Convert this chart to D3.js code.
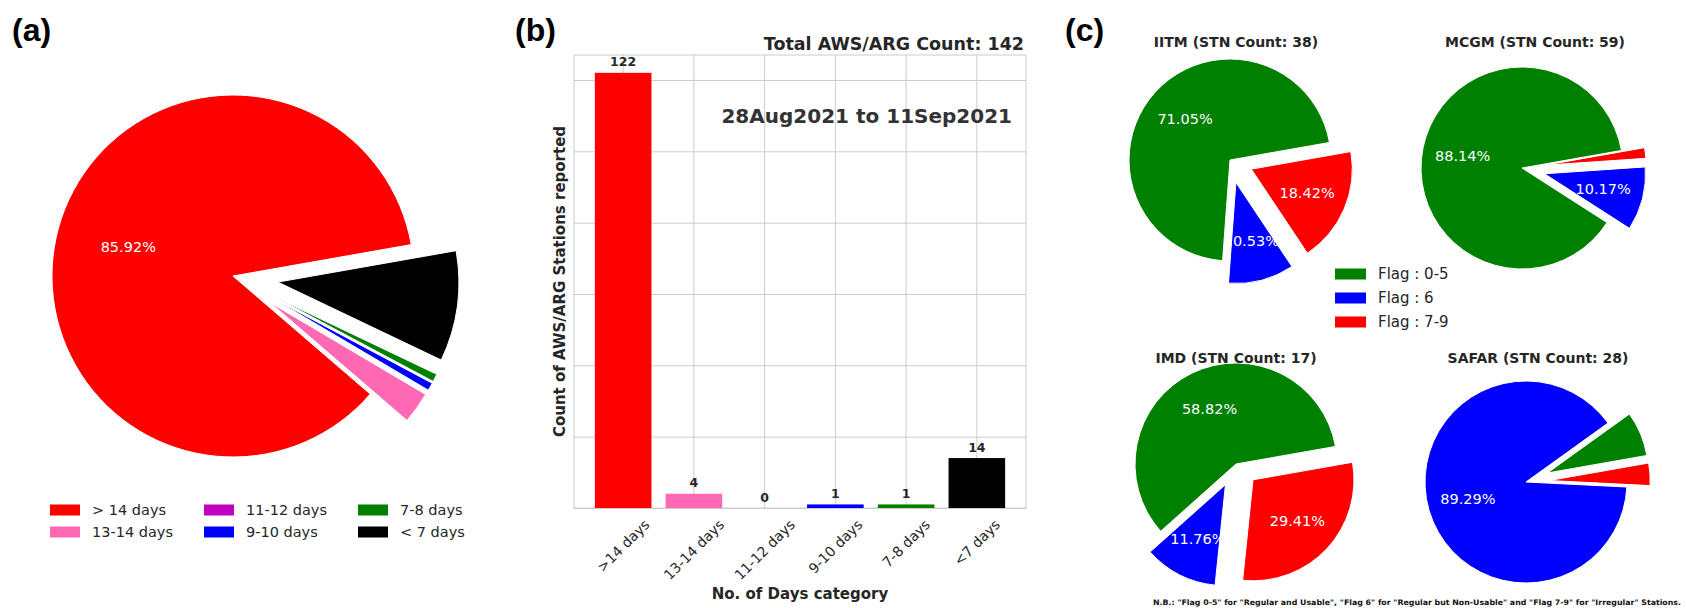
<!DOCTYPE html>
<html><head><meta charset="utf-8">
<script src="https://cdn.jsdelivr.net/npm/d3@7"></script>
<style>body{margin:0;background:#fff}svg{display:block}</style>
</head><body>
<svg id="chart" width="1686" height="608"></svg>
<script>
// ---------- data ----------
const legendCategories = ["> 14 days", "13-14 days", "11-12 days", "9-10 days", "7-8 days", "< 7 days"];
const barCategories = [">14 days", "13-14 days", "11-12 days", "9-10 days", "7-8 days", "<7 days"];
const stationCounts = [122, 4, 0, 1, 1, 14];
const dayColors = ["#ff0000", "#ff69b4", "#bf00bf", "#0000ff", "#008000", "#000000"];

const flagLabels = ["Flag : 0-5", "Flag : 6", "Flag : 7-9"];
const flagColors = ["#008000", "#0000ff", "#ff0000"];
const networkNames = ["IITM", "MCGM", "IMD", "SAFAR"];
const iitmFlags = [27, 4, 7];
const mcgmFlags = [52, 6, 1];
const imdFlags = [10, 2, 5];
const safarFlags = [2, 25, 1];

const totalTitle = "Total AWS/ARG Count: 142";
const periodText = "28Aug2021 to 11Sep2021";
const footnote = 'N.B.: "Flag 0-5" for "Regular and Usable", "Flag 6" for "Regular but Non-Usable" and "Flag 7-9" for "Irregular" Stations.';

// ---------- setup ----------
const svg = d3.select("#chart");
const FONT = "'DejaVu Sans', sans-serif";
const TXT = "#262626";
const deg = Math.PI / 180;

function drawPie(values, colors, cx, cy, r, explode, fontSize) {
  const g = svg.append("g");
  const total = d3.sum(values);
  const maxV = d3.max(values);
  const a0 = Math.PI / 2 - 10 * deg;            // startangle=10, counter-clockwise
  const pie = d3.pie().sort(null).value(d => d).startAngle(a0).endAngle(a0 - 2 * Math.PI);
  const arc = d3.arc().innerRadius(0).outerRadius(r);
  const arcs = pie(values);
  arcs.forEach((a, i) => {
    if (a.value === 0) return;
    const m = (a.startAngle + a.endAngle) / 2;
    const e = a.value === maxV ? 0 : explode;
    const dx = Math.sin(m) * e * r, dy = -Math.cos(m) * e * r;
    g.append("path")
      .attr("d", arc(a))
      .attr("transform", `translate(${cx + dx},${cy + dy})`)
      .attr("fill", colors[i])
      .attr("stroke", "#fff").attr("stroke-width", 1);
  });
  arcs.forEach((a, i) => {
    const pct = a.value / total * 100;
    if (pct <= 10) return;
    const m = (a.startAngle + a.endAngle) / 2;
    const e = a.value === maxV ? 0 : explode;
    const rr = (0.6 + e) * r;
    g.append("text")
      .attr("x", cx + Math.sin(m) * rr)
      .attr("y", cy - Math.cos(m) * rr)
      .attr("text-anchor", "middle").attr("dominant-baseline", "central")
      .attr("font-family", FONT).attr("font-size", fontSize)
      .attr("fill", "#ffffff")
      .text(pct.toFixed(2) + "%");
  });
}

// panel letters
[["(a)", 12], ["(b)", 515], ["(c)", 1065]].forEach(([t, x]) => {
  svg.append("text").attr("x", x).attr("y", 41)
    .attr("font-family", "'Liberation Sans', Arial, sans-serif")
    .attr("font-weight", "bold").attr("font-size", 32).attr("fill", "#000").text(t);
});

// ---------- panel (a) ----------
drawPie(stationCounts, dayColors, 233, 276, 181, 0.25, 14.5);
const legA = svg.append("g");
legendCategories.forEach((c, i) => {
  const col = Math.floor(i / 2), row = i % 2;
  const sx = [50, 204, 358][col], yc = [510, 532][row];
  legA.append("rect").attr("x", sx).attr("y", yc - 5.5).attr("width", 30).attr("height", 11).attr("fill", dayColors[i]);
  legA.append("text").attr("x", sx + 42).attr("y", yc)
    .attr("dominant-baseline", "central").attr("font-family", FONT)
    .attr("font-size", 14.5).attr("fill", TXT).text(c);
});

// ---------- panel (b) ----------
const L = 574, R = 1026, T = 55, B = 508;
const x = d3.scaleBand().domain(barCategories).range([L, R]).paddingInner(0.2).paddingOuter(0.295);
const y = d3.scaleLinear().domain([0, 127]).range([B, T]);
const gb = svg.append("g");

const gy = gb.append("g").attr("transform", `translate(${L},0)`)
  .call(d3.axisLeft(y).tickValues(y.ticks(6)).tickSize(-(R - L)).tickFormat(""));
gy.select(".domain").remove();
gy.selectAll("line").attr("stroke", "#cccccc");
const gx = gb.append("g").attr("transform", `translate(0,${B})`)
  .call(d3.axisBottom(x).tickSize(-(B - T)).tickFormat(""));
gx.select(".domain").remove();
gx.selectAll("line").attr("stroke", "#cccccc");

gb.append("rect").attr("x", L).attr("y", T).attr("width", R - L).attr("height", B - T)
  .attr("fill", "none").attr("stroke", "#cccccc").attr("stroke-width", 1);

gb.selectAll("rect.bar").data(stationCounts).enter().append("rect").attr("class", "bar")
  .attr("x", (d, i) => x(barCategories[i]))
  .attr("y", d => y(d))
  .attr("width", x.bandwidth())
  .attr("height", d => y(0) - y(d))
  .attr("fill", (d, i) => dayColors[i]);

gb.selectAll("text.val").data(stationCounts).enter().append("text").attr("class", "val")
  .attr("x", (d, i) => x(barCategories[i]) + x.bandwidth() / 2)
  .attr("y", d => y(d) - 6.5)
  .attr("text-anchor", "middle").attr("font-family", FONT).attr("font-weight", "bold")
  .attr("font-size", 12.5).attr("fill", TXT).text(d => d);

// rotated tick labels (bbox centered on tick)
barCategories.forEach(c => {
  const t = gb.append("text").attr("font-family", FONT).attr("font-size", 14)
    .attr("fill", TXT).attr("text-anchor", "middle").attr("dominant-baseline", "central").text(c);
  const len = t.node().getComputedTextLength();
  const h = 14 * 0.8;
  const bh = (len + h) * Math.SQRT1_2;
  const cx = x(c) + x.bandwidth() / 2, cy = B + 10 + bh / 2;
  t.attr("transform", `translate(${cx},${cy}) rotate(-45)`);
});

gb.append("text").attr("x", (L + R) / 2).attr("y", 599).attr("text-anchor", "middle")
  .attr("font-family", FONT).attr("font-weight", "bold").attr("font-size", 15).attr("fill", TXT)
  .text("No. of Days category");
gb.append("text").attr("transform", `translate(${L - 14},${(T + B) / 2}) rotate(-90)`)
  .attr("text-anchor", "middle").attr("dominant-baseline", "central")
  .attr("font-family", FONT).attr("font-weight", "bold").attr("font-size", 15).attr("fill", TXT)
  .text("Count of AWS/ARG Stations reported");
gb.append("text").attr("x", R - 2).attr("y", 50).attr("text-anchor", "end")
  .attr("font-family", FONT).attr("font-weight", "bold").attr("font-size", 17.5).attr("fill", TXT)
  .text(totalTitle);
gb.append("text").attr("x", R - 14).attr("y", 123).attr("text-anchor", "end")
  .attr("font-family", FONT).attr("font-weight", "bold").attr("font-size", 20).attr("fill", "#333")
  .text(periodText);

// ---------- panel (c) ----------
const pieSpecs = [
  { name: networkNames[0], vals: iitmFlags, cx: 1230, cy: 160, tx: 1236, ty: 47 },
  { name: networkNames[1], vals: mcgmFlags, cx: 1522, cy: 168, tx: 1535, ty: 47 },
  { name: networkNames[2], vals: imdFlags, cx: 1236, cy: 464, tx: 1236, ty: 363 },
  { name: networkNames[3], vals: safarFlags, cx: 1526, cy: 482, tx: 1538, ty: 363 }
];
pieSpecs.forEach(p => {
  drawPie(p.vals, flagColors, p.cx, p.cy, 101, 0.23, 14.5);
  svg.append("text").attr("x", p.tx).attr("y", p.ty).attr("text-anchor", "middle")
    .attr("font-family", FONT).attr("font-weight", "bold").attr("font-size", 14).attr("fill", TXT)
    .text(`${p.name} (STN Count: ${d3.sum(p.vals)})`);
});
const legC = svg.append("g");
flagLabels.forEach((f, i) => {
  const yc = 274 + i * 24;
  legC.append("rect").attr("x", 1335).attr("y", yc - 5.5).attr("width", 31).attr("height", 11).attr("fill", flagColors[i]);
  legC.append("text").attr("x", 1378).attr("y", yc).attr("dominant-baseline", "central")
    .attr("font-family", FONT).attr("font-size", 15).attr("fill", TXT).text(f);
});
svg.append("text").attr("x", 1681).attr("y", 605).attr("text-anchor", "end")
  .attr("font-family", FONT).attr("font-weight", "bold").attr("font-size", 7.6).attr("fill", "#111")
  .attr("textLength", 528).attr("lengthAdjust", "spacingAndGlyphs")
  .text(footnote);
</script>
</body></html>
